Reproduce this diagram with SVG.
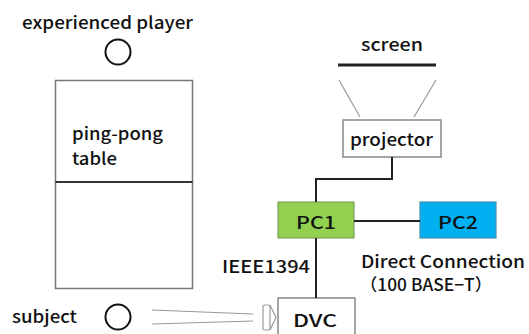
<svg xmlns="http://www.w3.org/2000/svg" width="529" height="334" viewBox="0 0 529 334">
<style>
text{font-family:"Noto Sans CJK JP","Noto Sans",sans-serif;font-size:17px;font-weight:500;fill:#111}
.box{fill:#fff;stroke:#888;stroke-width:1.5}
.conn{stroke:#222;stroke-width:2;fill:none}
.ray{stroke:#999;stroke-width:1.2;fill:none}
.person{fill:none;stroke:#111;stroke-width:2}
</style>
<rect width="529" height="334" fill="#fff"/>
<g id="experienced-player">
<text x="22" y="29" textLength="171" lengthAdjust="spacingAndGlyphs">experienced player</text>
<circle class="person" cx="118" cy="52" r="12.5"/>
</g>
<g id="table">
<rect x="55.5" y="80.5" width="137" height="208" fill="#fff" stroke="#777" stroke-width="1.5"/>
<line x1="55.5" y1="182" x2="192.5" y2="182" stroke="#333" stroke-width="2"/>
<text x="72" y="140" textLength="91" lengthAdjust="spacingAndGlyphs">ping-pong</text>
<text x="72" y="165" textLength="45" lengthAdjust="spacingAndGlyphs">table</text>
</g>
<g id="screen">
<text x="361" y="51" textLength="62" lengthAdjust="spacingAndGlyphs">screen</text>
<line x1="338" y1="65" x2="436" y2="65" stroke="#222" stroke-width="3"/>
</g>
<g id="projector">
<rect class="box" x="343" y="120" width="98" height="37"/>
<text x="350" y="146" textLength="83" lengthAdjust="spacingAndGlyphs">projector</text>
</g>
<g id="pc1">
<rect x="278" y="202" width="76" height="36" fill="#92D050" stroke="#7f9f60" stroke-width="1.2"/>
<text x="316" y="229" text-anchor="middle" textLength="40" lengthAdjust="spacingAndGlyphs">PC1</text>
</g>
<g id="pc2">
<rect x="420" y="202" width="76" height="36" fill="#00B0F0" stroke="#4a90b0" stroke-width="1.2"/>
<text x="458" y="229" text-anchor="middle" textLength="40" lengthAdjust="spacingAndGlyphs">PC2</text>
</g>
<g id="dvc">
<rect class="box" x="278" y="298" width="77" height="40"/>
<text x="315" y="327" text-anchor="middle" textLength="44" lengthAdjust="spacingAndGlyphs">DVC</text>
<rect x="263" y="305" width="7" height="25" rx="1.5" fill="#fff" stroke="#999" stroke-width="1.2"/>
<polyline points="270,305 276,317.5 270,330" fill="none" stroke="#999" stroke-width="1.2"/>
</g>
<g id="subject">
<text x="12" y="323" textLength="65" lengthAdjust="spacingAndGlyphs">subject</text>
<circle class="person" cx="118" cy="317" r="12.5"/>
</g>
<g id="labels">
<text x="361" y="268" textLength="164" lengthAdjust="spacingAndGlyphs">Direct Connection</text>
<text x="360" y="291" textLength="132" lengthAdjust="spacingAndGlyphs">（100 BASE−T）</text>
<text x="222" y="273" textLength="88" lengthAdjust="spacingAndGlyphs">IEEE1394</text>
</g>
<g id="connectors">
<line class="ray" x1="339" y1="80" x2="360" y2="117"/>
<line class="ray" x1="436" y1="80" x2="414" y2="117"/>
<polyline class="conn" points="392,157 392,179 316,179 316,202"/>
<line class="conn" x1="354" y1="221" x2="420" y2="221"/>
<line class="conn" x1="316" y1="238" x2="316" y2="298"/>
<line class="ray" x1="152" y1="310" x2="253" y2="314"/>
<line class="ray" x1="152" y1="324" x2="253" y2="321"/>
</g>
</svg>
